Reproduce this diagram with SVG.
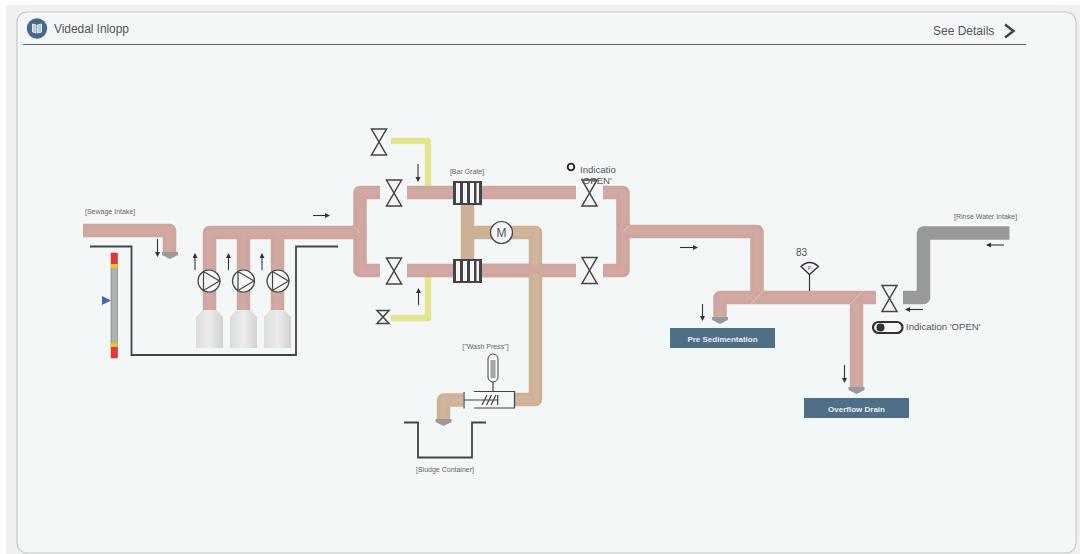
<svg xmlns="http://www.w3.org/2000/svg" width="1080" height="554" viewBox="0 0 1080 554">
<style>
text{font-family:"Liberation Sans",Arial,sans-serif;fill:#555}
.lbl{font-size:7px;fill:#666}
.ind{font-size:9.600px;fill:#555}
.btn{font-size:8px;font-weight:bold;fill:#e8eef2;text-anchor:middle}
.p,.pi,.t,.ti,.g,.gi,.y{fill:none;stroke-linejoin:round}
.p{stroke:#cfa59e;stroke-width:13.500}
.pi{stroke:#d2a9a2;stroke-width:6}
.t{stroke:#cdb096;stroke-width:13.500}
.ti{stroke:#d0b49c;stroke-width:6}
.g{stroke:#999;stroke-width:13.500}
.y{stroke:#e3e58f;stroke-width:6.500}
.arr{stroke:#333;stroke-width:1.100;fill:none;marker-end:url(#ah)}
.ln{stroke:#444;stroke-width:1.800;fill:none}
.v{fill:none;stroke:#444;stroke-width:1.500}
.pump{fill:#f4f7f9;stroke:#444;stroke-width:1.200}
.tank{fill:url(#tg)}
.noz{fill:#999}
.seam{stroke:#e4cbc7;stroke-width:.8;fill:none}
</style>
<defs>
<marker id="ah" markerWidth="6" markerHeight="6" refX="4" refY="2.500" orient="auto" markerUnits="userSpaceOnUse"><path d="M0 0L5 2.500L0 5Z" fill="#333"/></marker>
<linearGradient id="tg" x1="0" x2="1" y1="0" y2="0"><stop offset="0" stop-color="#dcdcdc"/><stop offset=".5" stop-color="#ececec"/><stop offset="1" stop-color="#d2d2d2"/></linearGradient>
<g id="valve"><path class="v" d="M-7.500 -13H7.500L-7.500 13H7.500Z"/></g>
<g id="pumpi"><circle class="pump" r="11"/><path class="pump" d="M-5.500 -9.500L10.500 0L-5.500 9.500Z" fill="none"/></g>
<g id="grate"><rect x="-14.500" y="-12" width="29" height="24" fill="#444"/><rect x="-11.500" y="-10" width="4" height="20" fill="#f4f7f9"/><rect x="-4.500" y="-10" width="4" height="20" fill="#f4f7f9"/><rect x="2.500" y="-10" width="4" height="20" fill="#f4f7f9"/><rect x="9" y="-10" width="2.500" height="20" fill="#f4f7f9"/></g>
<g id="tankS"><path class="tank" d="M-13.500 348V317L-7 310H7L13.500 317V348Z"/></g>
<path id="nozzle" d="M-8 0H8V3L0 7L-8 3Z"/>
</defs>

<rect width="1080" height="554" fill="#fff"/>
<rect x="6" y="5" width="1074" height="549" fill="#f0f0f0"/>
<rect x="17" y="12" width="1059" height="541" rx="10" fill="#f4f7f8" stroke="#c8c8c8" stroke-width="1.200"/>

<g id="header">
<circle cx="37" cy="28.500" r="10.200" fill="#44698a"/>
<path d="M32.500 24L36 25V33L32.500 32ZM37.500 25L41.500 24V32L37.500 33Z" fill="#b9c8d4" stroke="#dfe7ed" stroke-width="1"/>
<text x="54" y="33" font-size="12" textLength="75">Videdal Inlopp</text>
<text x="933" y="35" font-size="12">See Details</text>
<path d="M1005 24.500L1013.500 31L1005 37.500" fill="none" stroke="#444" stroke-width="2.500"/>
<line x1="23" y1="44.500" x2="1026" y2="44.500" stroke="#666" stroke-width="1"/>
</g>

<g id="connectors">
<path class="y" d="M391 141H428V186"/>
<path class="y" d="M391 318H428V277"/>
<path d="M424.700 186L428 189.500L431.300 186ZM424.700 277L428 273L431.300 277Z" fill="#e3e58f"/>
<path class="t" d="M467.500 205V259"/>
<path class="t" d="M468 232.500H535.500V399.500H515"/>
<path class="ti" d="M490 232.500H535.500V399.500H515"/>
<path class="t" d="M463 400H443.500V419"/>
<path class="ti" d="M463 400H443.500V419"/>
<path class="p" d="M83 230.500H169.500V252"/>
<path class="pi" d="M83 230.500H169.500V252"/>
<path class="p" d="M209.500 310V232.500H360"/>
<path class="p" d="M243.500 310V232.500"/>
<path class="p" d="M277.500 310V232.500"/>
<path class="pi" d="M209.500 310V232.500H360M243.500 310V236M277.500 310V236"/>
<path class="p" d="M380 192.500H360V270.500H380"/>
<path class="pi" d="M380 192.500H360V270.500H380"/>
<path class="p" d="M407 192.500H576M407 270.500H576"/>
<path class="t" d="M535.500 264V277"/>
<path class="ti" d="M535.500 264V277"/>
<path class="p" d="M482 270.500H529"/>
<path class="pi" d="M407 192.500H453M482 192.500H576M407 270.500H453M482 270.500H576"/>
<path class="p" d="M603 192.500H623V270.500H603"/>
<path class="pi" d="M603 192.500H623V270.500H603"/>
<path class="p" d="M623 231.500H757V297.500"/>
<path class="pi" d="M623 231.500H757V297.500"/>
<path class="p" d="M876 297.500H720V317"/>
<path class="pi" d="M876 297.500H720V317"/>
<path class="p" d="M856.500 297.500V387"/>
<path class="pi" d="M856.500 300V387"/>
<path class="g" d="M1009.500 233H923.500V297.500H903"/>
<path class="seam" d="M354 227L360 232.500M629 226L623 231.500M751 304L763.500 291M850 304L856.500 297.500L863 291"/>
</g>

<g id="sewage-intake">
<text class="lbl" x="85" y="214">[Sewage Intake]</text>
<use href="#nozzle" class="noz" x="170" y="252"/>
</g>
<g id="basin"><path class="ln" d="M90 246.500H131.500V355H296V246.500H338"/></g>
<g id="level-gauge">
<rect x="111" y="253" width="6.500" height="105" fill="#b0b0b0" stroke="#777" stroke-width=".6"/>
<rect x="111" y="253" width="6.500" height="11" fill="#e5343a"/>
<rect x="111" y="264" width="6.500" height="4" fill="#f2c511"/>
<rect x="111" y="343" width="6.500" height="4" fill="#f2c511"/>
<rect x="111" y="347" width="6.500" height="11" fill="#e5343a"/>
<path d="M102 296L111 300.500L102 305Z" fill="#3f66b5"/>
</g>
<g id="pump-1"><use href="#tankS" x="209.500"/><use href="#pumpi" x="209" y="281"/></g>
<g id="pump-2"><use href="#tankS" x="243.500"/><use href="#pumpi" x="243.500" y="281"/></g>
<g id="pump-3"><use href="#tankS" x="277.500"/><use href="#pumpi" x="278" y="281"/></g>

<g id="valves">
<use href="#valve" x="379" y="142"/>
<use href="#valve" x="394" y="193"/>
<use href="#valve" x="394" y="271"/>
<path class="v" d="M377 310.500H389L377 323.500H389Z"/>
<use href="#valve" x="589.500" y="193"/>
<use href="#valve" x="589.500" y="270.500"/>
<use href="#valve" x="889.500" y="298.500"/>
</g>

<g id="bar-grate">
<text class="lbl" x="467" y="174" text-anchor="middle">[Bar Grate]</text>
<use href="#grate" x="467.500" y="193"/>
<use href="#grate" x="467.500" y="271"/>
</g>
<g id="motor">
<circle cx="501.500" cy="232.500" r="11" fill="#f4f7f8" stroke="#444" stroke-width="1.200"/>
<text x="501.500" y="236.800" font-size="12" text-anchor="middle" fill="#555">M</text>
</g>
<g id="indicator-1">
<circle cx="571" cy="167" r="3.300" fill="none" stroke="#222" stroke-width="1.800"/>
<text class="ind" x="580" y="173">Indicatio</text>
<text class="ind" x="581" y="184">'OPEN'</text>
</g>

<g id="wash-press">
<text class="lbl" x="485.500" y="349" text-anchor="middle">["Wash Press"]</text>
<rect x="488" y="354" width="10" height="28" rx="5" fill="#f4f7f8" stroke="#444" stroke-width="1"/>
<rect x="490.500" y="360" width="5" height="18" fill="#a5a5a5"/>
<path class="ln" style="stroke-width:1.200" d="M493 382V391M474 391.500H514.500V408H474M464 392V408.500M464 400H498M497.700 395V405M482 405L487 395M486.500 405L491.500 395M491 405L496 395"/>
</g>
<g id="sludge-container">
<path class="ln" d="M404 422.500H418V457.500H472V422.500H486"/>
<use href="#nozzle" class="noz" x="443.500" y="419"/>
<text class="lbl" x="445" y="472" text-anchor="middle">[Sludge Container]</text>
</g>

<g id="pressure">
<text x="796" y="256" font-size="10">83</text>
<path d="M801 266.500Q809.500 258.500 818.500 266.500L809.500 274.500Z" fill="#f4f7f8" stroke="#333" stroke-width="1.300"/>
<text x="809.500" y="270" font-size="5" text-anchor="middle" fill="#777">P</text>
<line x1="809.500" y1="274.500" x2="809.500" y2="291" stroke="#333" stroke-width="1.200"/>
</g>
<g id="pre-sedimentation">
<use href="#nozzle" class="noz" x="720" y="317"/>
<rect x="670" y="328" width="105" height="20" fill="#4f6f88"/>
<text class="btn" x="722.500" y="341.500">Pre Sedimentation</text>
</g>
<g id="overflow-drain">
<use href="#nozzle" class="noz" x="856.500" y="387"/>
<rect x="804" y="398" width="105" height="20" fill="#4f6f88"/>
<text class="btn" x="856.500" y="411.500">Overflow Drain</text>
</g>
<g id="rinse-water">
<text class="lbl" x="954" y="219">[Rinse Water Intake]</text>
</g>
<g id="indicator-2">
<rect x="873" y="322" width="29.500" height="11" rx="5.500" fill="#f4f7f8" stroke="#333" stroke-width="2.200"/>
<circle cx="880.500" cy="327.500" r="4" fill="#333"/>
<text class="ind" x="906" y="330">Indication 'OPEN'</text>
</g>

<g id="flow-arrows">
<line class="arr" x1="157.500" y1="239" x2="157.500" y2="256"/>
<line class="arr" x1="195" y1="270" x2="195" y2="254"/>
<line class="arr" x1="228.500" y1="270" x2="228.500" y2="254"/>
<line class="arr" x1="262" y1="270" x2="262" y2="254"/>
<line class="arr" x1="313" y1="215.500" x2="329" y2="215.500"/>
<line class="arr" x1="418" y1="164" x2="418" y2="181"/>
<line class="arr" x1="418.500" y1="305" x2="418.500" y2="289"/>
<line class="arr" x1="680" y1="247.500" x2="697" y2="247.500"/>
<line class="arr" x1="702.500" y1="304" x2="702.500" y2="320"/>
<line class="arr" x1="844.500" y1="365" x2="844.500" y2="382"/>
<line class="arr" x1="1004" y1="245" x2="987" y2="245"/>
<line class="arr" x1="923" y1="309.500" x2="906" y2="309.500"/>
</g>
</svg>
